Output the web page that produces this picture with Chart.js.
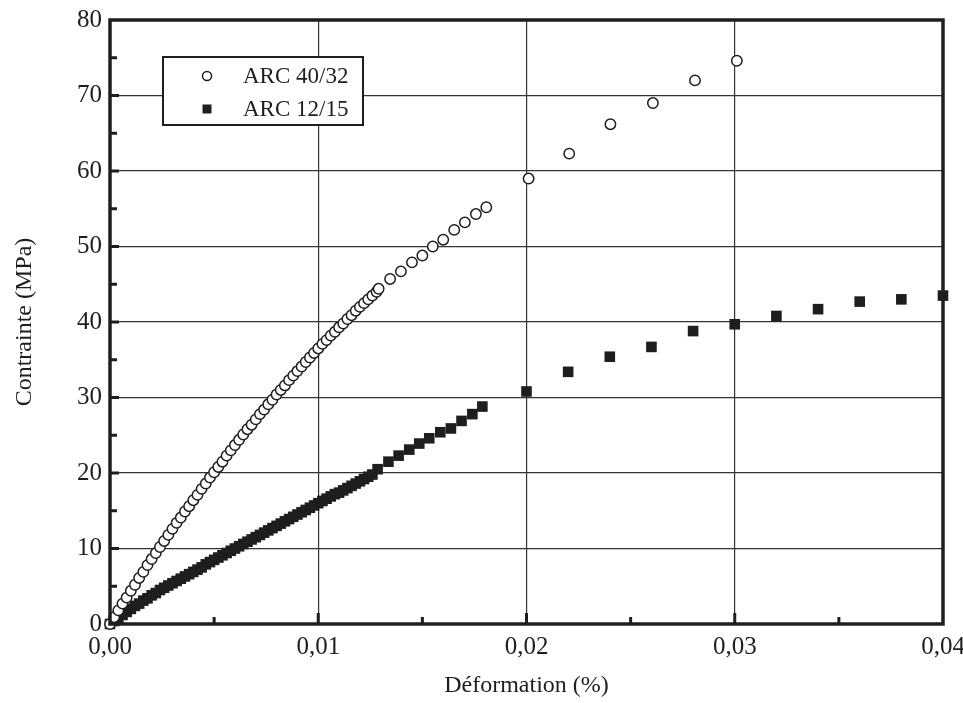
<!DOCTYPE html>
<html>
<head>
<meta charset="utf-8">
<script src="https://cdn.jsdelivr.net/npm/chart.js@4/dist/chart.umd.min.js"></script>
<style>
html,body{margin:0;padding:0;background:#fff;}
#wrap{width:963px;height:703px;}
</style>
</head>
<body>
<div id="wrap"><canvas id="stressChart" width="963" height="703"></canvas></div>
<script>
// ARC 40/32 (open circles)
const arc4032X = [
0.0000,0.0002,0.0004,0.0006,0.0008,0.0010,0.0012,0.0014,0.0016,0.0018,
0.0020,0.0022,0.0024,0.0026,0.0028,0.0030,0.0032,0.0034,0.0036,0.0038,
0.0040,0.0042,0.0044,0.0046,0.0048,0.0050,0.0052,0.0054,0.0056,0.0058,
0.0060,0.0062,0.0064,0.0066,0.0068,0.0070,0.0072,0.0074,0.0076,0.0078,
0.0080,0.0082,0.0084,0.0086,0.0088,0.0090,0.0092,0.0094,0.0096,0.0098,
0.0100,0.0102,0.0104,0.0106,0.0108,0.0110,0.0112,0.0114,0.0116,0.0118,
0.0120,0.0122,0.0124,0.0126,0.0128,
0.0129,0.01345,0.01397,0.0145,0.0150,0.0155,0.0160,0.01653,0.01704,0.01757,0.01807,
0.0201,0.02205,0.02403,0.02607,0.02809,0.0301
];
const arc4032Y = [
0,0.9,1.8,2.7,3.5,4.4,5.2,6.1,6.9,7.8,
8.6,9.4,10.2,11.0,11.8,12.6,13.4,14.1,14.9,15.6,
16.4,17.1,17.9,18.6,19.4,20.1,20.8,21.5,22.3,23.0,
23.7,24.4,25.1,25.8,26.4,27.1,27.8,28.4,29.1,29.7,
30.4,31.0,31.6,32.3,32.9,33.5,34.1,34.7,35.3,35.9,
36.5,37.1,37.6,38.2,38.7,39.3,39.8,40.4,40.9,41.5,
42.0,42.5,43.0,43.5,44.0,
44.4,45.7,46.7,47.9,48.8,50.0,50.9,52.2,53.2,54.3,55.2,
59.0,62.3,66.2,69.0,72.0,74.6
];

// ARC 12/15 (filled squares)
const arc1215X = [
0.0000,0.0002,0.0004,0.0006,0.0008,0.0010,0.0012,0.0014,0.0016,0.0018,
0.0020,0.0022,0.0024,0.0026,0.0028,0.0030,0.0032,0.0034,0.0036,0.0038,
0.0040,0.0042,0.0044,0.0046,0.0048,0.0050,0.0052,0.0054,0.0056,0.0058,
0.0060,0.0062,0.0064,0.0066,0.0068,0.0070,0.0072,0.0074,0.0076,0.0078,
0.0080,0.0082,0.0084,0.0086,0.0088,0.0090,0.0092,0.0094,0.0096,0.0098,
0.0100,0.0102,0.0104,0.0106,0.0108,0.0110,0.0112,0.0114,0.0116,0.0118,
0.0120,0.0122,0.0124,0.0126,
0.01285,0.01337,0.01386,0.01437,0.01485,0.01533,0.01586,0.01637,0.01688,0.0174,0.01788,
0.020,0.022,0.024,0.026,0.028,0.030,0.032,0.034,0.036,0.038,0.040
];
const arc1215Y = [
0,0.4,0.8,1.2,1.6,2.0,2.4,2.7,3.1,3.4,
3.8,4.1,4.5,4.8,5.1,5.4,5.7,6.0,6.3,6.6,
6.9,7.2,7.5,7.9,8.2,8.5,8.8,9.1,9.4,9.7,
10.0,10.3,10.6,10.9,11.2,11.5,11.8,12.1,12.4,12.7,
13.0,13.3,13.6,13.9,14.2,14.5,14.8,15.1,15.4,15.7,
16.0,16.3,16.6,16.9,17.2,17.4,17.7,18.0,18.3,18.6,
18.9,19.2,19.5,19.8,
20.5,21.5,22.3,23.1,23.9,24.6,25.4,25.9,26.9,27.8,28.8,
30.8,33.4,35.4,36.7,38.8,39.7,40.8,41.7,42.7,43.0,43.5
];

const seriesNames = ["ARC 40/32", "ARC 12/15"];
const xTicks = [0, 0.01, 0.02, 0.03, 0.04];
const yTicks = [0, 10, 20, 30, 40, 50, 60, 70, 80];

const ink = "#1e1e1e";
const serif = "'Liberation Serif', 'Times New Roman', serif";

function toPoints(xs, ys){
  return xs.map((x,i)=>({x:x, y:ys[i]}));
}

// frame, inward ticks and the boxed legend
const framePlugin = {
  id: "frame",
  afterDatasetsDraw(chart){
    const c = chart.ctx;
    const a = chart.chartArea;
    const sx = chart.scales.x, sy = chart.scales.y;
    c.save();
    c.strokeStyle = ink;
    c.lineCap = "butt";

    // minor / major ticks pointing inside
    c.lineWidth = 3;
    for (let v = 5; v < 80; v += 5) {
      const y = sy.getPixelForValue(v);
      const len = (v % 10 === 0) ? 9 : 7;
      c.beginPath(); c.moveTo(a.left, y); c.lineTo(a.left + len, y); c.stroke();
    }
    for (let i = 1; i < 8; i++) {
      const x = sx.getPixelForValue(i * 0.005);
      const len = (i % 2 === 0) ? 11 : 7;
      c.beginPath(); c.moveTo(x, a.bottom); c.lineTo(x, a.bottom - len); c.stroke();
    }

    // thick box
    c.lineWidth = 3.5;
    c.strokeRect(a.left, a.top, a.right - a.left, a.bottom - a.top);

    // legend box
    const lx = 163, ly = 57, lw = 200, lh = 68;
    c.fillStyle = "#fff";
    c.fillRect(lx, ly, lw, lh);
    c.lineWidth = 2;
    c.strokeRect(lx, ly, lw, lh);

    c.font = "23px " + serif;
    c.textBaseline = "middle";
    c.textAlign = "left";
    chart.data.datasets.forEach((ds, i)=>{
      const cy = ly + 19 + i * 33;
      const mx = lx + 44;
      if (ds.pointStyle === "circle") {
        c.beginPath();
        c.arc(mx, cy, 4.5, 0, Math.PI * 2);
        c.fillStyle = "#fff"; c.fill();
        c.lineWidth = 1.5; c.strokeStyle = ink; c.stroke();
      } else {
        c.fillStyle = ink;
        c.fillRect(mx - 4.5, cy - 4.5, 9, 9);
      }
      c.fillStyle = ink;
      c.fillText(ds.label, lx + 80, cy + 1);
    });
    c.restore();
  }
};

const ctx = document.getElementById("stressChart");

const chart = new Chart(ctx,{
  type:"scatter",
  data:{
    datasets:[{
      label: seriesNames[0],
      data: toPoints(arc4032X, arc4032Y),
      pointStyle: "circle",
      pointRadius: 5.2,
      pointBorderWidth: 1.5,
      pointBackgroundColor: "#fff",
      pointBorderColor: ink,
      showLine: false,
      clip: false
    },{
      label: seriesNames[1],
      data: toPoints(arc1215X, arc1215Y),
      pointStyle: "rect",
      pointRadius: 7.5,
      pointBorderWidth: 0,
      pointBackgroundColor: ink,
      pointBorderColor: ink,
      showLine: false,
      clip: false
    }]
  },
  options:{
    responsive:false,
    animation:false,
    devicePixelRatio:1,
    layout:{padding:{top:20, right:20, left:0, bottom:0}},
    plugins:{
      legend:{display:false},
      tooltip:{enabled:false}
    },
    scales:{
      x:{
        type:"linear",
        min:0, max:0.04,
        afterBuildTicks(scale){ scale.ticks = xTicks.map(v=>({value:v})); },
        afterFit(scale){ scale.height = 79; scale.paddingLeft = 0; scale.paddingRight = 0; },
        grid:{color:"#333", lineWidth:1.2, drawTicks:false},
        border:{display:false},
        ticks:{
          padding:8,
          color:ink,
          font:{family:serif, size:25},
          maxRotation:0,
          callback:(v)=>v.toFixed(2).replace(".", ",")
        },
        title:{
          display:true,
          text:"Déformation (%)",
          color:ink,
          font:{family:serif, size:24},
          padding:{top:0, bottom:3}
        }
      },
      y:{
        type:"linear",
        min:0, max:80,
        afterBuildTicks(scale){ scale.ticks = yTicks.map(v=>({value:v})); },
        afterFit(scale){ scale.width = 110; scale.paddingTop = 0; scale.paddingBottom = 0; },
        grid:{color:"#333", lineWidth:1.2, drawTicks:false},
        border:{display:false},
        ticks:{
          padding:8,
          color:ink,
          font:{family:serif, size:25},
          callback:(v)=>String(v)
        },
        title:{
          display:true,
          text:"Contrainte (MPa)",
          color:ink,
          font:{family:serif, size:24},
          padding:{top:10, bottom:0}
        }
      }
    }
  },
  plugins:[framePlugin]
});
</script>
</body>
</html>
